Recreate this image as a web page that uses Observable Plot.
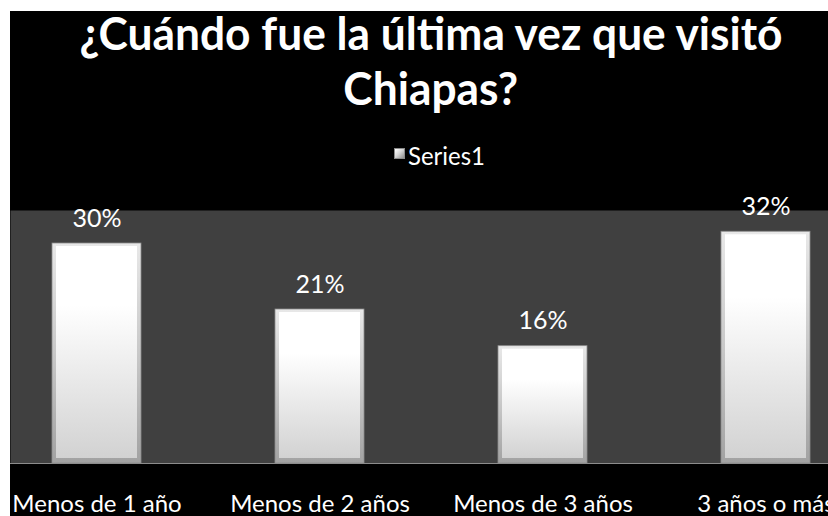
<!DOCTYPE html>
<html><head><meta charset="utf-8">
<script src="https://cdn.jsdelivr.net/npm/d3@7"></script>
<script src="https://cdn.jsdelivr.net/npm/@observablehq/plot@0.6"></script>
<style>
html,body{margin:0;padding:0;background:#fff;}
body{width:828px;height:516px;position:relative;overflow:hidden;font-family:Lato,"Open Sans",sans-serif;}
#bg{position:absolute;left:10px;top:11px;width:818px;height:505px;background:#000;}
.t{position:absolute;left:10px;width:842px;text-align:center;color:#fff;font-weight:700;line-height:1.2;white-space:nowrap;}
.t span{display:inline-block;transform-origin:50% 50%;}
#lsq{position:absolute;left:394px;top:148px;width:9px;height:9px;border:0.5px solid #8a8a8a;background:linear-gradient(135deg,#ffffff 0%,#d8d8d8 45%,#8e8e8e 100%);}
#ltx{position:absolute;left:408px;color:#fff;line-height:1.2;white-space:nowrap;}
#ltx span{display:inline-block;transform-origin:0 50%;}
#chart{position:absolute;left:10px;top:180px;}
</style></head>
<body>
<div id="bg"></div>
<div class="t" id="t1"><span></span></div>
<div class="t" id="t2"><span></span></div>
<div id="lsq"></div>
<div id="ltx"><span></span></div>
<div id="chart"></div>
<script>
const titleLines = ["¿Cuándo fue la última vez que visitó", "Chiapas?"];
const seriesName = "Series1";
const categories = ["Menos de 1 año", "Menos de 2 años", "Menos de 3 años", "3 años o más"];
const shares = [0.30, 0.21, 0.16, 0.316];

const fmt = d3.format(".0%");
const data = categories.map((c, i) => ({category: c, value: shares[i]}));

// Title: Calibri-like proportions — large size, horizontally condensed to the reference width
const t1 = document.querySelector("#t1 span"), t2 = document.querySelector("#t2 span");
t1.textContent = titleLines[0]; t2.textContent = titleLines[1];
const fs = 46, asc = 0.987;
for (const [id, base] of [["t1", 50], ["t2", 105]]) {
  const el = document.getElementById(id);
  el.style.fontSize = fs + "px";
  el.style.top = (base - asc * fs) + "px";
}
const k = 703 / t1.getBoundingClientRect().width;
t1.style.transform = `scaleX(${k})`;
t2.style.transform = `scaleX(${k})`;

// Legend
const ltx = document.querySelector("#ltx span");
ltx.textContent = seriesName;
const lfs = 25;
document.getElementById("ltx").style.fontSize = lfs + "px";
document.getElementById("ltx").style.top = (165 - asc * lfs) + "px";
ltx.style.transform = `scaleX(${77 / ltx.getBoundingClientRect().width})`;

const svg = Plot.plot({
  width: 818,
  height: 336,
  marginLeft: 0, marginRight: 0, marginTop: 30, marginBottom: 53,
  style: {background: "transparent", color: "#fff", fontFamily: "Lato, 'Open Sans', sans-serif"},
  x: {domain: categories, range: [-25.1, 867.6], paddingInner: 0.6, paddingOuter: 0.3, label: null},
  y: {domain: [0, 0.345], axis: null},
  marks: [
    Plot.frame({fill: "#404040", stroke: "none"}),
    Plot.barY(data, {x: "category", y: "value", fill: "url(#bevel)", stroke: "#8c8c8c", strokeWidth: 0.8}),
    Plot.barY(data, {x: "category", y: "value", fill: "url(#face)", insetLeft: 4, insetRight: 4, insetTop: 3, insetBottom: 5}),
    Plot.ruleY([0], {stroke: "#8c8c8c", strokeWidth: 1.2}),
    Plot.text(data, {x: "category", y: "value", text: d => fmt(d.value), dy: -25, fill: "#fff", fontSize: 25}),
    Plot.axisX({tickSize: 0, tickPadding: 31, fontSize: 24, label: null})
  ]
});
const defs = d3.select(svg).insert("defs", ":first-child");
const face = defs.append("linearGradient").attr("id", "face").attr("x1", 0).attr("y1", 0).attr("x2", 0).attr("y2", 1);
[[0, "#ffffff"], [0.28, "#ffffff"], [1, "#d2d2d2"]].forEach(([o, c]) => face.append("stop").attr("offset", o).attr("stop-color", c));
const bevel = defs.append("linearGradient").attr("id", "bevel").attr("x1", 0).attr("y1", 0).attr("x2", 0).attr("y2", 1);
[[0, "#e8e8e8"], [0.5, "#c8c8c8"], [1, "#a2a2a2"]].forEach(([o, c]) => bevel.append("stop").attr("offset", o).attr("stop-color", c));
document.getElementById("chart").appendChild(svg);
</script>
</body></html>
